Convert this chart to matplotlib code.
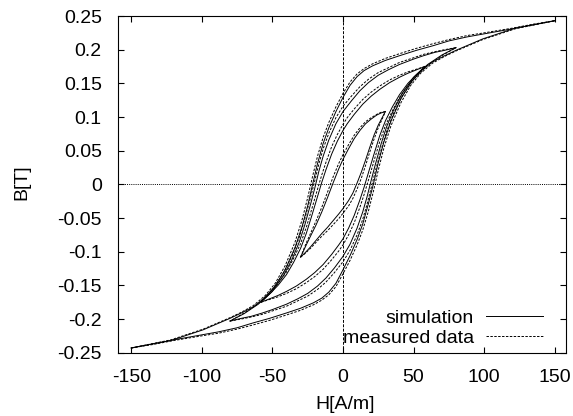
import numpy as np
import matplotlib
matplotlib.use('Agg')
import matplotlib.pyplot as plt
from matplotlib.ticker import FuncFormatter, MultipleLocator

plt.rcParams['font.family'] = ['Liberation Sans', 'DejaVu Sans']

# Hysteresis loops: descending branch (from +Hmax) and ascending branch (from -Hmax)
# Major loop, Hmax = 150 A/m
h_a_down = [150, 135, 120, 100, 88, 75, 64, 52, 40, 30, 21, 15, 10, 5, 0, -5, -10, -14, -18, -21.5,
            -25, -29, -34, -41, -48, -55, -63.5, -72, -80, -99, -122, -150]
b_a_down_sim = [0.243, 0.237, 0.231, 0.2235, 0.219, 0.213, 0.206, 0.199, 0.191, 0.184, 0.176, 0.169, 0.160,
                0.147, 0.129, 0.108, 0.084, 0.061, 0.031, 0.0, -0.032, -0.063, -0.094, -0.127, -0.151,
                -0.168, -0.182, -0.191, -0.199, -0.216, -0.232, -0.243]
b_a_down_meas = [0.243, 0.238, 0.232, 0.225, 0.221, 0.215, 0.209, 0.202, 0.194, 0.187, 0.179, 0.172, 0.164,
                 0.152, 0.135, 0.115, 0.092, 0.070, 0.042, 0.012, -0.020, -0.053, -0.086, -0.121, -0.147,
                 -0.165, -0.180, -0.190, -0.198, -0.215, -0.231, -0.243]
h_a_up = [-150, -135, -120, -100, -88, -75, -64, -52, -40, -30, -21, -15, -10, -5, 0, 5, 10, 14, 18, 21.5,
          25, 29, 34, 41, 48, 55, 63.5, 72, 80, 99, 122, 150]
b_a_up_sim = [-0.243, -0.237, -0.231, -0.2235, -0.219, -0.213, -0.206, -0.199, -0.191, -0.184, -0.176, -0.169,
              -0.160, -0.147, -0.127, -0.106, -0.082, -0.059, -0.029, 0.0, 0.032, 0.063, 0.094, 0.127, 0.151,
              0.168, 0.182, 0.191, 0.199, 0.216, 0.232, 0.243]
b_a_up_meas = [-0.243, -0.238, -0.232, -0.225, -0.221, -0.215, -0.209, -0.202, -0.194, -0.187, -0.179, -0.172,
               -0.164, -0.152, -0.133, -0.113, -0.090, -0.068, -0.040, -0.011, 0.021, 0.054, 0.087, 0.121,
               0.147, 0.165, 0.180, 0.190, 0.198, 0.215, 0.231, 0.243]

# Loop with Hmax = 80 A/m
h_b_down = [80, 72, 65, 57, 50, 40, 32, 25, 18, 12, 6, 0, -5, -10, -14, -17, -20, -23, -27, -31, -36,
            -42, -50, -60, -70, -80]
b_b_down_sim = [0.203, 0.199, 0.196, 0.191, 0.186, 0.178, 0.170, 0.162, 0.151, 0.139, 0.124, 0.108, 0.090,
                0.066, 0.042, 0.020, -0.006, -0.030, -0.060, -0.086, -0.111, -0.135, -0.159, -0.178,
                -0.192, -0.203]
b_b_down_meas = [0.203, 0.200, 0.197, 0.193, 0.188, 0.181, 0.173, 0.166, 0.156, 0.145, 0.131, 0.116, 0.099,
                 0.076, 0.053, 0.031, 0.005, -0.020, -0.051, -0.079, -0.106, -0.131, -0.156, -0.177,
                 -0.191, -0.203]
h_b_up = [-80, -72, -65, -57, -50, -40, -32, -25, -18, -12, -6, 0, 5, 10, 14, 17, 20, 23, 27, 31, 36,
          42, 50, 60, 70, 80]
b_b_up_sim = [-0.203, -0.199, -0.196, -0.191, -0.186, -0.178, -0.170, -0.162, -0.151, -0.139, -0.124, -0.107,
              -0.089, -0.065, -0.041, -0.019, 0.006, 0.030, 0.060, 0.086, 0.111, 0.135, 0.159, 0.178,
              0.192, 0.203]
b_b_up_meas = [-0.203, -0.200, -0.197, -0.193, -0.188, -0.181, -0.173, -0.166, -0.156, -0.145, -0.131, -0.115,
               -0.098, -0.075, -0.052, -0.030, -0.005, 0.020, 0.051, 0.079, 0.106, 0.131, 0.156, 0.177,
               0.191, 0.203]

# Loop with Hmax = 58 A/m
h_c_down = [58, 52, 46, 40, 33, 26, 20, 14, 8, 3, 0, -4, -8, -12, -15, -18, -22, -26, -30, -35, -40,
            -46, -52, -58]
b_c_down_sim = [0.175, 0.170, 0.165, 0.159, 0.151, 0.141, 0.131, 0.119, 0.104, 0.090, 0.080, 0.064, 0.045,
                0.022, 0.003, -0.018, -0.046, -0.073, -0.095, -0.116, -0.134, -0.150, -0.163, -0.175]
b_c_down_meas = [0.175, 0.171, 0.167, 0.162, 0.155, 0.146, 0.137, 0.126, 0.112, 0.099, 0.089, 0.074, 0.056,
                 0.033, 0.014, -0.007, -0.036, -0.064, -0.088, -0.110, -0.130, -0.147, -0.161, -0.175]
h_c_up = [-58, -52, -46, -40, -33, -26, -20, -14, -8, -3, 0, 4, 8, 12, 15, 18, 22, 26, 30, 35, 40,
          46, 52, 58]
b_c_up_sim = [-0.175, -0.170, -0.165, -0.159, -0.151, -0.141, -0.131, -0.119, -0.104, -0.090, -0.081, -0.065,
              -0.046, -0.023, -0.004, 0.017, 0.045, 0.072, 0.094, 0.115, 0.133, 0.150, 0.163, 0.175]
b_c_up_meas = [-0.175, -0.171, -0.167, -0.162, -0.155, -0.146, -0.137, -0.126, -0.112, -0.099, -0.090, -0.075,
               -0.057, -0.034, -0.015, 0.006, 0.035, 0.063, 0.087, 0.109, 0.129, 0.147, 0.161, 0.175]

# Minor loop, Hmax = 30 A/m
h_d_down = [30, 27, 24, 20, 16, 12, 8, 4, 0, -3, -7, -11, -15, -19, -23, -26, -30]
b_d_down_sim = [0.108, 0.106, 0.103, 0.097, 0.090, 0.080, 0.068, 0.053, 0.037, 0.023, 0.002, -0.020,
                -0.041, -0.060, -0.077, -0.090, -0.108]
b_d_down_meas = [0.108, 0.107, 0.104, 0.099, 0.093, 0.084, 0.073, 0.059, 0.044, 0.031, 0.011, -0.012,
                 -0.034, -0.054, -0.073, -0.087, -0.108]
h_d_up = [-30, -27, -23, -19, -15, -11, -7, -3, 0, 4, 7, 10, 13, 16, 19, 22, 25, 28, 30]
b_d_up_sim = [-0.108, -0.102, -0.093, -0.083, -0.073, -0.064, -0.054, -0.044, -0.036, -0.024, -0.013,
              0.002, 0.018, 0.036, 0.055, 0.073, 0.088, 0.100, 0.108]
b_d_up_meas = [-0.108, -0.103, -0.095, -0.086, -0.077, -0.069, -0.060, -0.051, -0.043, -0.032, -0.021,
               -0.007, 0.009, 0.028, 0.048, 0.067, 0.084, 0.098, 0.108]

branches = [
    (h_a_down, b_a_down_sim, b_a_down_meas), (h_a_up, b_a_up_sim, b_a_up_meas),
    (h_b_down, b_b_down_sim, b_b_down_meas), (h_b_up, b_b_up_sim, b_b_up_meas),
    (h_c_down, b_c_down_sim, b_c_down_meas), (h_c_up, b_c_up_sim, b_c_up_meas),
    (h_d_down, b_d_down_sim, b_d_down_meas), (h_d_up, b_d_up_sim, b_d_up_meas),
]

fig = plt.figure(figsize=(5.73, 4.16), dpi=100)
ax = fig.add_axes([0.2068, 0.1522, 0.7810, 0.8093])

# zero axes
ax.axhline(0, color='black', lw=0.7, linestyle=(0, (1, 1.2)), zorder=1)
ax.axvline(0, color='black', lw=0.7, linestyle=(0, (3, 1.5)), zorder=1)

dash = (0, (2.5, 1.5))
for i, (h, bs, bm) in enumerate(branches):
    ax.plot(h, bs, color='black', lw=0.7, label='simulation' if i == 0 else None)
    ax.plot(h, bm, color='black', lw=0.7, linestyle=dash, label='measured data' if i == 0 else None)

ax.set_xlim(-159, 158)
ax.set_ylim(-0.25, 0.25)
ax.xaxis.set_major_locator(MultipleLocator(50))
ax.yaxis.set_major_locator(MultipleLocator(0.05))
ax.yaxis.set_major_formatter(FuncFormatter(lambda v, p: f'{round(v, 2) + 0:g}'))
ax.xaxis.set_major_formatter(FuncFormatter(lambda v, p: f'{round(v) + 0:g}'))
ax.tick_params(direction='in', length=4, width=0.8, top=True, right=True, labelsize=14, colors='black')
ax.tick_params(axis='y', pad=12)
ax.tick_params(axis='x', pad=12)
for s in ax.spines.values():
    s.set_linewidth(0.8)

ax.set_xlabel('H[A/m]', fontsize=14, va='center')
ax.set_ylabel('B[T]', fontsize=14, va='center')
ax.xaxis.set_label_coords(0.5055, -0.155)
ax.yaxis.set_label_coords(-0.2156, 0.507)

ax.legend(loc='lower right', bbox_to_anchor=(0.948, 0.018), frameon=False, markerfirst=False,
          fontsize=14, handlelength=2.9, handletextpad=0.65, borderpad=0, borderaxespad=0,
          labelspacing=0.1)

fig.savefig('out.png', dpi=100)
